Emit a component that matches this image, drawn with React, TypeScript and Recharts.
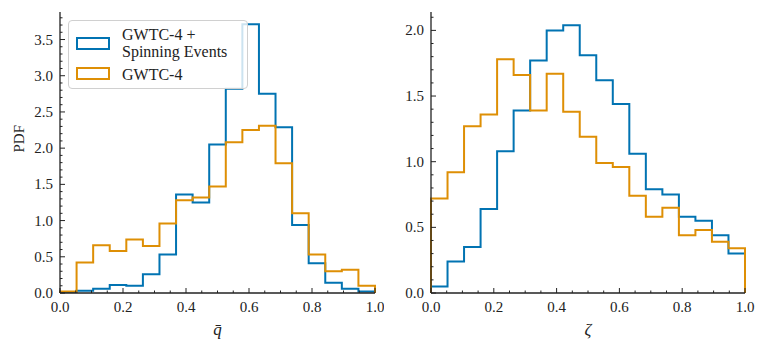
import React from 'react';
import { LineChart, Line, XAxis, YAxis } from 'recharts';

// 19 equal-width bins on [0, 1]
const BIN_COUNT = 19;

const qBarSpinning = [0.01, 0.03, 0.06, 0.11, 0.1, 0.26, 0.53, 1.36, 1.25, 2.05, 2.82, 3.71, 2.75, 2.29, 0.94, 0.41, 0.14, 0.06, 0.02];
const qBarGwtc4 = [0.02, 0.42, 0.66, 0.58, 0.74, 0.65, 0.96, 1.28, 1.32, 1.47, 2.08, 2.25, 2.31, 1.79, 1.1, 0.53, 0.3, 0.32, 0.1];
const zetaSpinning = [0.05, 0.24, 0.35, 0.64, 1.08, 1.39, 1.77, 2.0, 2.04, 1.81, 1.62, 1.44, 1.06, 0.79, 0.75, 0.58, 0.55, 0.44, 0.3];
const zetaGwtc4 = [0.72, 0.92, 1.27, 1.36, 1.78, 1.66, 1.39, 1.67, 1.38, 1.19, 0.99, 0.96, 0.74, 0.58, 0.65, 0.44, 0.48, 0.39, 0.34];

const seriesNames = ['GWTC-4 +', 'Spinning Events', 'GWTC-4'];

const BLUE = '#0173B2';
const ORANGE = '#DE8F05';
const AXIS = '#222';
const FONT = "'Liberation Serif', 'Times New Roman', 'DejaVu Serif', serif";

const range = (max: number, step: number) => {
  const out: number[] = [];
  for (let i = 0; i * step <= max + 1e-9; i++) out.push(Math.round(i * step * 1000) / 1000);
  return out;
};

const xTicks = range(1, 0.05);
const qYTicks = range(3.8, 0.1);
const zYTicks = range(2.1, 0.1);

// matplotlib-style step histogram outline
const toSteps = (vals: number[]) => {
  const pts = [{ x: 0, y: 0 }];
  vals.forEach((v, i) => pts.push({ x: i / BIN_COUNT, y: v }));
  pts.push({ x: 1, y: vals[vals.length - 1] });
  pts.push({ x: 1, y: 0 });
  return pts;
};

const isMajor = (v: number, step: number) => Math.abs(v / step - Math.round(v / step)) < 1e-6;

const BottomTick = (props: any) => {
  const { x, y, payload } = props;
  const major = isMajor(payload.value, 0.2);
  return (
    <g>
      <line x1={x} y1={y} x2={x} y2={y - (major ? 5 : 2.5)} stroke={AXIS} strokeWidth={1} />
      {major && (
        <text x={x} y={y + 14} textAnchor="middle" dominantBaseline="central" style={{ fontFamily: FONT, fontSize: 15 }} fill={AXIS}>
          {payload.value.toFixed(1)}
        </text>
      )}
    </g>
  );
};

const TopTick = (props: any) => {
  const { x, y, payload } = props;
  const major = isMajor(payload.value, 0.2);
  return <line x1={x} y1={y} x2={x} y2={y + (major ? 5 : 2.5)} stroke={AXIS} strokeWidth={1} />;
};

const LeftTick = (props: any) => {
  const { x, y, payload } = props;
  const major = isMajor(payload.value, 0.5);
  return (
    <g>
      <line x1={x} y1={y} x2={x + (major ? 5 : 2.5)} y2={y} stroke={AXIS} strokeWidth={1} />
      {major && (
        <text x={x - 7} y={y} textAnchor="end" dominantBaseline="central" style={{ fontFamily: FONT, fontSize: 15 }} fill={AXIS}>
          {payload.value.toFixed(1)}
        </text>
      )}
    </g>
  );
};

const RightTick = (props: any) => {
  const { x, y, payload } = props;
  const major = isMajor(payload.value, 0.5);
  return <line x1={x} y1={y} x2={x - (major ? 5 : 2.5)} y2={y} stroke={AXIS} strokeWidth={1} />;
};

interface PanelProps {
  blue: number[];
  orange: number[];
  yMax: number;
  yTicks: number[];
  xLabel: string;
  yLabel?: string;
  yAxisWidth: number;
  rightMargin: number;
}

const Panel: React.FC<PanelProps> = ({ blue, orange, yMax, yTicks, xLabel, yLabel, yAxisWidth, rightMargin }) => (
  <LineChart width={384} height={348} margin={{ top: 12, right: rightMargin, bottom: 0, left: 0 }}>
    <XAxis
      xAxisId="b"
      type="number"
      dataKey="x"
      domain={[0, 1]}
      ticks={xTicks}
      interval={0}
      height={55}
      tickSize={0}
      tickMargin={0}
      tickLine={false}
      tick={<BottomTick />}
      axisLine={{ stroke: AXIS, strokeWidth: 1.3 }}
      label={{ value: xLabel, position: 'insideBottom', offset: 13, style: { fontFamily: FONT, fontSize: 17, fontStyle: 'italic' }, fill: AXIS }}
    />
    <XAxis
      xAxisId="t"
      orientation="top"
      type="number"
      dataKey="x"
      domain={[0, 1]}
      ticks={xTicks}
      interval={0}
      height={0}
      tickSize={0}
      tickMargin={0}
      tickLine={false}
      tick={<TopTick />}
      axisLine={{ stroke: AXIS, strokeWidth: 1.3 }}
    />
    <YAxis
      yAxisId="l"
      type="number"
      domain={[0, yMax]}
      ticks={yTicks}
      interval={0}
      width={yAxisWidth}
      tickSize={0}
      tickMargin={0}
      tickLine={false}
      tick={<LeftTick />}
      axisLine={{ stroke: AXIS, strokeWidth: 1.3 }}
      allowDataOverflow
      label={
        yLabel
          ? { value: yLabel, angle: -90, position: 'insideLeft', offset: 19, style: { fontFamily: FONT, fontSize: 15 }, fill: AXIS }
          : undefined
      }
    />
    <YAxis
      yAxisId="r"
      orientation="right"
      type="number"
      domain={[0, yMax]}
      ticks={yTicks}
      interval={0}
      width={0}
      tickSize={0}
      tickMargin={0}
      tickLine={false}
      tick={<RightTick />}
      axisLine={{ stroke: AXIS, strokeWidth: 1.3 }}
      allowDataOverflow
    />
    <Line
      xAxisId="b"
      yAxisId="l"
      data={toSteps(blue)}
      dataKey="y"
      type="stepAfter"
      stroke={BLUE}
      strokeWidth={2}
      dot={false}
      isAnimationActive={false}
    />
    <Line
      xAxisId="b"
      yAxisId="l"
      data={toSteps(orange)}
      dataKey="y"
      type="stepAfter"
      stroke={ORANGE}
      strokeWidth={2}
      dot={false}
      isAnimationActive={false}
    />
  </LineChart>
);

const Patch: React.FC<{ color: string; top: number }> = ({ color, top }) => (
  <div
    style={{
      position: 'absolute',
      left: 7,
      top,
      width: 30,
      height: 9,
      border: `2px solid ${color}`,
    }}
  />
);

const App: React.FC = () => (
  <div style={{ position: 'absolute', left: 0, top: 0, width: 768, height: 348, background: '#fff' }}>
    <div style={{ position: 'absolute', left: 0, top: 0 }}>
      <Panel
        blue={qBarSpinning}
        orange={qBarGwtc4}
        yMax={3.88}
        yTicks={qYTicks}
        xLabel={'q\u0304'}
        yLabel="PDF"
        yAxisWidth={60}
        rightMargin={9}
      />
    </div>
    <div style={{ position: 'absolute', left: 384, top: 0 }}>
      <Panel
        blue={zetaSpinning}
        orange={zetaGwtc4}
        yMax={2.14}
        yTicks={zYTicks}
        xLabel={'\u03B6'}
        yAxisWidth={47}
        rightMargin={23}
      />
    </div>
    <div
      style={{
        position: 'absolute',
        left: 68,
        top: 20,
        width: 178,
        height: 67,
        border: '1px solid #d0d0d0',
        borderRadius: 4,
        background: 'rgba(255,255,255,0.8)',
        fontFamily: FONT,
        fontSize: 16,
        color: AXIS,
        lineHeight: '17px',
      }}
    >
      <Patch color={BLUE} top={16} />
      <Patch color={ORANGE} top={46} />
      <div style={{ position: 'absolute', left: 53, top: 5, whiteSpace: 'nowrap' }}>
        {seriesNames[0]}
        <br />
        {seriesNames[1]}
      </div>
      <div style={{ position: 'absolute', left: 53, top: 45, whiteSpace: 'nowrap' }}>{seriesNames[2]}</div>
    </div>
  </div>
);

export default App;
